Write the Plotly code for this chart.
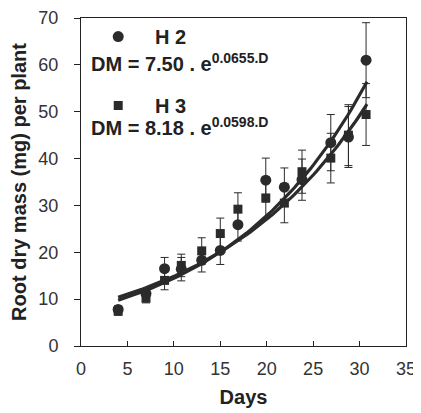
import numpy as np
import plotly.graph_objects as go

# ---- data ----
days = [4, 7, 9, 10.8, 13, 15, 16.9, 19.9, 21.9, 23.8, 26.9, 28.8, 30.7]
h2 = [7.8, 11.2, 16.5, 16.4, 18.3, 20.4, 25.9, 35.4, 33.9, 35.5, 43.4, 44.6, 61.0]
h2_err = [0.8, 1.0, 2.4, 2.5, 2.5, 3.0, 3.5, 4.7, 4.1, 4.4, 6.0, 6.5, 8.0]
h3 = [7.4, 10.2, 14.0, 17.2, 20.3, 24.0, 29.2, 31.6, 30.5, 37.2, 40.1, 45.0, 49.4]
h3_err = [0.8, 1.0, 2.0, 2.4, 2.8, 3.3, 3.5, 4.4, 4.2, 4.6, 5.3, 6.5, 6.6]

# fitted models shown on the chart: DM = a * exp(b * D)
h2_a, h2_b = 7.50, 0.0655
h3_a, h3_b = 8.18, 0.0598
fit_start, fit_end = 4, 30.8

x_ticks = [0, 5, 10, 15, 20, 25, 30, 35]
y_ticks = [0, 10, 20, 30, 40, 50, 60, 70]

series_names = ["H 2", "H 3"]
eq_texts = ["DM = 7.50 . e<sup>0.0655.D</sup>", "DM = 8.18 . e<sup>0.0598.D</sup>"]

INK = "#2b2b2b"
FONT = "Liberation Sans, Arial, sans-serif"

fd = np.linspace(fit_start, fit_end, 80)

fig = go.Figure()
fig.add_trace(go.Scatter(x=fd, y=h2_a * np.exp(h2_b * fd), mode="lines",
                         line=dict(color=INK, width=3.2), showlegend=False, hoverinfo="skip"))
fig.add_trace(go.Scatter(x=fd, y=h3_a * np.exp(h3_b * fd), mode="lines",
                         line=dict(color=INK, width=3.2), showlegend=False, hoverinfo="skip"))

fig.add_trace(go.Scatter(
    x=days, y=h2, mode="markers", name="\u00a0\u00a0\u00a0" + series_names[0],
    marker=dict(symbol="circle", size=11, color=INK),
    error_y=dict(type="data", array=h2_err, color=INK, thickness=1, width=4),
    legendgroup="a"))
fig.add_trace(go.Scatter(
    x=days, y=h3, mode="markers", name="\u00a0\u00a0\u00a0" + series_names[1],
    marker=dict(symbol="square", size=9, color=INK),
    error_y=dict(type="data", array=h3_err, color=INK, thickness=1, width=4),
    legendgroup="b"))

# the page body adds an 8px margin, so the figure is sized to fit the window
PLOT_H = 328
fig.update_layout(
    width=413, height=405,
    margin=dict(l=73, r=15, t=10, b=67, autoexpand=False),
    paper_bgcolor="white", plot_bgcolor="white",
    font=dict(family=FONT, color="#222", size=18),
    xaxis=dict(range=[0, 35], tickvals=x_ticks, ticks="inside", ticklen=5,
               tickcolor="#222", showline=True, linecolor="#222", linewidth=1,
               mirror=True, showgrid=False, zeroline=False, automargin=False,
               tickfont=dict(size=18, color="#333"), ticklabelstandoff=6,
               title=dict(text="<b>Days</b>", font=dict(size=20, color="#222"), standoff=12)),
    yaxis=dict(range=[0, 70], tickvals=y_ticks, ticks="outside", ticklen=6,
               tickcolor="#222", showline=True, linecolor="#222", linewidth=1,
               mirror=True, showgrid=False, zeroline=False, automargin=False,
               tickfont=dict(size=18, color="#333"), ticklabelstandoff=12,
               title=dict(text="<b>Root dry mass (mg) per plant</b>",
                          font=dict(size=20, color="#222"), standoff=13)),
    legend=dict(x=0.053, y=1.003, xanchor="left", yanchor="top",
                bgcolor="rgba(0,0,0,0)", font=dict(size=20, color="#222", family=FONT),
                tracegroupgap=40, itemsizing="trace"),
)
fig.update_layout(legend_font_weight="bold")

fig.add_annotation(xref="paper", yref="paper", x=0.026, y=(346 - 62) / PLOT_H,
                   xanchor="left", yanchor="middle", showarrow=False,
                   text="<b>" + eq_texts[0] + "</b>", font=dict(size=20, color="#222"))
fig.add_annotation(xref="paper", yref="paper", x=0.026, y=(346 - 127) / PLOT_H,
                   xanchor="left", yanchor="middle", showarrow=False,
                   text="<b>" + eq_texts[1] + "</b>", font=dict(size=20, color="#222"))

fig.write_html("out.html")
